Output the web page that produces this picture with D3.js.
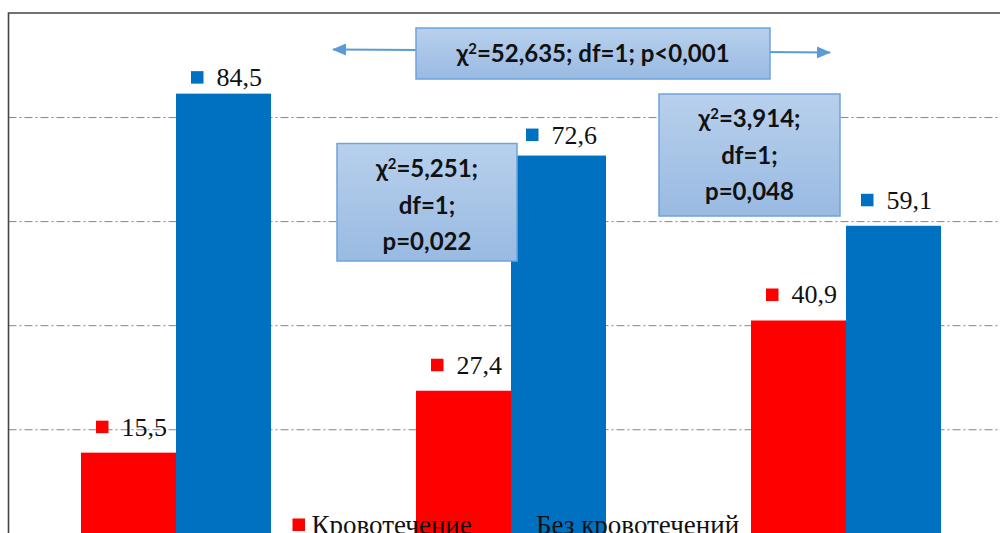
<!DOCTYPE html>
<html>
<head>
<meta charset="utf-8">
<script src="https://cdn.jsdelivr.net/npm/d3@7"></script>
<style>
  html, body { margin: 0; padding: 0; background: #fff; }
  svg { display: block; }
</style>
</head>
<body>
<svg id="chart" width="1000" height="533"></svg>
<script>
// Categories (groups of paired bars) and series
const categories = ["Группа 1", "Группа 2", "Группа 3"];
const seriesNames = ["Кровотечение", "Без кровотечений"];
const bleeding = [15.5, 27.4, 40.9];
const noBleeding = [84.5, 72.6, 59.1];
const gridTicks = [20, 40, 60, 80];

// Statistical annotations (χ² test results)
const overallTest = ["52,635; df=1; p<0,001"];
const pairTests = [
  ["5,251;", "df=1;", "p=0,022"],
  ["3,914;", "df=1;", "p=0,048"]
];

const colors = ["#FF0000", "#0070C0"];
const serif = "'Liberation Serif', 'Times New Roman', serif";
const sans = "Lato, 'Open Sans', sans-serif";

const svg = d3.select("#chart");
const W = 1000, H = 533;
const plot = { left: 8.5, right: 1013.5, top: 13, bottom: 533.3 };

const x0 = d3.scaleBand()
  .domain(categories)
  .range([plot.left, plot.right])
  .paddingInner(145 / 335)
  .paddingOuter(72.5 / 335);
const x1 = d3.scaleBand()
  .domain(seriesNames)
  .range([0, x0.bandwidth()]);
const y = d3.scaleLinear().domain([0, 100]).range([plot.bottom, plot.top]);

const rows = categories.map((c, i) => ({
  cat: c,
  values: [
    { s: seriesNames[0], v: bleeding[i], k: 0, i },
    { s: seriesNames[1], v: noBleeding[i], k: 1, i }
  ]
}));

// Gradient for annotation boxes
const defs = svg.append("defs");
const grad = defs.append("linearGradient")
  .attr("id", "boxFill").attr("x1", 0).attr("y1", 0).attr("x2", 0).attr("y2", 1);
grad.append("stop").attr("offset", "0%").attr("stop-color", "#B8D0EC");
grad.append("stop").attr("offset", "100%").attr("stop-color", "#99BAE2");

defs.append("marker")
  .attr("id", "arrowHead")
  .attr("viewBox", "0 0 14 12")
  .attr("refX", 13).attr("refY", 6)
  .attr("markerWidth", 14).attr("markerHeight", 12)
  .attr("markerUnits", "userSpaceOnUse")
  .attr("orient", "auto-start-reverse")
  .append("path").attr("d", "M0,0 L14,6 L0,12 Z").attr("fill", "#5B9BD5");

// Horizontal gridlines (dash-dot)
const yAxis = d3.axisLeft(y).tickValues(gridTicks)
  .tickSize(-(plot.right - plot.left)).tickFormat("");
const gGrid = svg.append("g")
  .attr("transform", `translate(${plot.left},0)`)
  .call(yAxis);
gGrid.select(".domain").remove();
gGrid.selectAll(".tick line")
  .attr("stroke", "#858585")
  .attr("stroke-width", 1)
  .attr("stroke-dasharray", "8,3,2,3");

// Chart border (top and left edges visible)
svg.append("path")
  .attr("d", `M${plot.left},${H + 2} V${plot.top} H${W + 2}`)
  .attr("fill", "none")
  .attr("stroke", "#444")
  .attr("stroke-width", 1.6);

// Bars
const groups = svg.append("g").selectAll("g")
  .data(rows).join("g")
  .attr("transform", d => `translate(${x0(d.cat)},0)`);
groups.selectAll("rect")
  .data(d => d.values).join("rect")
  .attr("x", d => x1(d.s))
  .attr("y", d => y(d.v))
  .attr("width", x1.bandwidth())
  .attr("height", d => y(0) - y(d.v))
  .attr("fill", d => colors[d.k]);

// Long arrow spanning all groups with the overall test result
const arrowL = { x: 333, y: 49.5 }, arrowR = { x: 830, y: 52.5 };
svg.append("line")
  .attr("x1", arrowL.x).attr("y1", arrowL.y)
  .attr("x2", arrowR.x).attr("y2", arrowR.y)
  .attr("stroke", "#5B9BD5").attr("stroke-width", 2)
  .attr("marker-start", "url(#arrowHead)")
  .attr("marker-end", "url(#arrowHead)");

function chiLine(sel, rest) {
  sel.append("tspan").text("χ");
  sel.append("tspan").attr("font-size", "0.62em").attr("dy", "-0.55em").text("2");
  sel.append("tspan").attr("dy", "0.34em").text("=" + rest);
}

function box(x, yTop, w, h, lines, lineGap, firstBaseline) {
  const g = svg.append("g");
  g.append("rect")
    .attr("x", x).attr("y", yTop).attr("width", w).attr("height", h)
    .attr("fill", "url(#boxFill)")
    .attr("stroke", "#6FA3DA").attr("stroke-width", 1.5);
  lines.forEach((ln, j) => {
    const t = g.append("text")
      .attr("x", x + w / 2)
      .attr("y", firstBaseline + j * lineGap)
      .attr("text-anchor", "middle")
      .attr("font-family", sans)
      .attr("font-weight", "bold")
      .attr("font-size", 24)
      .attr("fill", "#111");
    if (j === 0) chiLine(t, ln); else t.text(ln);
  });
}

box(416, 28, 354, 51, overallTest, 0, 62);
box(337, 143.5, 180, 117.5, pairTests[0], 36.5, 177);
box(659, 94, 181, 122, pairTests[1], 36.5, 127);

// Value labels with series marker squares
const labelLift = { "1-0": 7.5, "1-1": 12 };
const labels = svg.append("g").selectAll("g")
  .data(rows.flatMap(r => r.values)).join("g")
  .attr("transform", d => {
    const cx = x0(categories[d.i]) + x1(d.s) + x1.bandwidth() / 2 + 3;
    const lift = labelLift[`${d.k}-${d.i}`] ?? 17;
    return `translate(${cx},${y(d.v) - lift})`;
  });
labels.each(function (d) {
  const g = d3.select(this);
  const txt = g.append("text")
    .attr("font-family", serif)
    .attr("font-size", 26)
    .attr("fill", "#111")
    .text(d3.format(".1f")(d.v).replace(".", ","));
  const tw = txt.node().getComputedTextLength();
  const total = 12.5 + 13 + tw;
  g.append("rect")
    .attr("x", -total / 2).attr("y", -15)
    .attr("width", 12.5).attr("height", 12.5)
    .attr("fill", colors[d.k]);
  txt.attr("x", -total / 2 + 25.5);
});

// Legend
const legendX = [292.5, 517];
const legend = svg.append("g").selectAll("g")
  .data(seriesNames).join("g")
  .attr("transform", (d, i) => `translate(${legendX[i]},534)`);
legend.append("rect")
  .attr("x", 0).attr("y", -15.5)
  .attr("width", 12.5).attr("height", 12.5)
  .attr("fill", (d, i) => colors[i]);
legend.append("text")
  .attr("x", 19)
  .attr("font-family", serif)
  .attr("font-size", 27)
  .attr("fill", "#111")
  .text(d => d);
</script>
</body>
</html>
